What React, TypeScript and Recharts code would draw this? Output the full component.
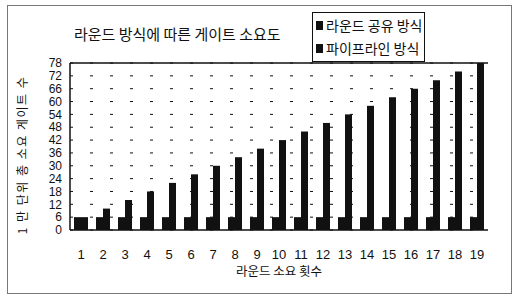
import React from 'react';
import { BarChart, Bar, XAxis, YAxis, CartesianGrid, Legend, ReferenceLine } from 'recharts';

const rounds = ['1', '2', '3', '4', '5', '6', '7', '8', '9', '10', '11', '12', '13', '14', '15', '16', '17', '18', '19'];
const sharedGates = [6, 6, 6, 6, 6, 6, 6, 6, 6, 6, 6, 6, 6, 6, 6, 6, 6, 6, 6];
const pipelineGates = [6, 10, 14, 18, 22, 26, 30, 34, 38, 42, 46, 50, 54, 58, 62, 66, 70, 74, 78];
const yTicks = [0, 6, 12, 18, 24, 30, 36, 42, 48, 54, 60, 66, 72, 78];

const seriesNames = ['라운드 공유 방식', '파이프라인 방식'];

const data = rounds.map((r, i) => ({
  round: r,
  shared: sharedGates[i],
  pipeline: pipelineGates[i],
}));

const korean = '"Noto Sans CJK KR", "Noto Sans", sans-serif';
const numFont = '"Liberation Sans Narrow", "Liberation Sans", Arial, sans-serif';
const ink = '#111';

const LegendBox = () => (
  <div
    style={{
      border: `1px solid ${ink}`,
      background: '#fff',
      padding: '1px 2px 1px 3px',
      fontFamily: korean,
      fontSize: 14,
      color: ink,
      lineHeight: '23px',
    }}
  >
    {seriesNames.map((name) => (
      <div key={name} style={{ display: 'flex', alignItems: 'center', whiteSpace: 'nowrap' }}>
        <span style={{ width: 7, height: 9, background: ink, marginRight: 3, display: 'inline-block' }} />
        {name}
      </div>
    ))}
  </div>
);

export default function App() {
  return (
    <div style={{ position: 'fixed', left: 0, top: 0, width: 516, height: 298, background: '#fff' }}>
      <div
        style={{
          position: 'absolute',
          left: 7,
          top: 5,
          width: 503,
          height: 287,
          border: '1px solid #777',
        }}
      />
      <BarChart
        width={516}
        height={298}
        data={data}
        margin={{ top: 63, right: 28, left: 48, bottom: 38 }}
        barGap={0}
        barSize={7}
      >
        <CartesianGrid vertical={false} stroke={ink} strokeDasharray="3 17" />
        <XAxis
          dataKey="round"
          height={30}
          axisLine={{ stroke: ink, strokeWidth: 1.5 }}
          tickLine={false}
          tickMargin={14}
          tick={{ fill: ink, fontSize: 13, fontFamily: numFont }}
          interval={0}
        />
        <YAxis
          width={22}
          domain={[0, 78]}
          ticks={yTicks}
          interval={0}
          axisLine={{ stroke: ink, strokeWidth: 1.5 }}
          tickLine={false}
          tick={{ fill: ink, fontSize: 12, fontFamily: numFont }}
        />
        <YAxis
          yAxisId="right"
          orientation="right"
          mirror
          width={0}
          domain={[0, 78]}
          ticks={yTicks}
          interval={0}
          axisLine={{ stroke: ink }}
          tickLine={{ stroke: ink }}
          tickSize={3}
          tick={false}
        />
        <ReferenceLine y={78} stroke={ink} strokeWidth={1.5} />
        <Legend
          content={<LegendBox />}
          layout="horizontal"
          verticalAlign="middle"
          align="center"
          wrapperStyle={{ position: 'absolute', left: 312, top: 12, width: 'auto', height: 'auto' }}
        />
        <Bar dataKey="shared" name={seriesNames[0]} fill={ink} isAnimationActive={false} />
        <Bar dataKey="pipeline" name={seriesNames[1]} fill={ink} isAnimationActive={false} />
      </BarChart>
      <div
        style={{
          position: 'absolute',
          left: 74,
          top: 24,
          fontFamily: korean,
          fontSize: 15,
          color: ink,
          whiteSpace: 'nowrap',
          lineHeight: '20px',
        }}
      >
        라운드 방식에 따른 게이트 소요도
      </div>
      <div
        style={{
          position: 'absolute',
          left: 22,
          top: 155,
          transform: 'translate(-50%, -50%) rotate(-90deg)',
          fontFamily: korean,
          fontSize: 12,
          letterSpacing: 1.5,
          color: ink,
          whiteSpace: 'nowrap',
          lineHeight: '14px',
        }}
      >
        1 만 단위 총 소요 게이트 수
      </div>
      <div
        style={{
          position: 'absolute',
          left: 279,
          top: 271,
          transform: 'translate(-50%, -50%)',
          fontFamily: korean,
          fontSize: 12.5,
          color: ink,
          whiteSpace: 'nowrap',
          lineHeight: '16px',
        }}
      >
        라운드 소요 횟수
      </div>
    </div>
  );
}
